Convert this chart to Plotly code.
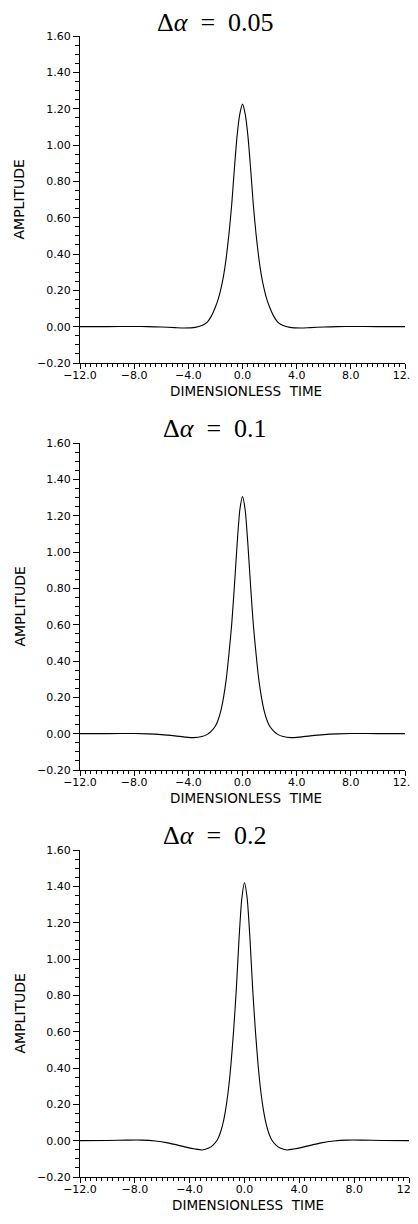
import plotly.graph_objects as go

# ---------------- data ----------------
titles = ["Δ<i>α</i>\u2002=\u20020.05", "Δ<i>α</i>\u2002=\u20020.1", "Δ<i>α</i>\u2002=\u20020.2"]

t_1 = [-12, -10, -8, -7, -6, -5, -4.3, -3.5, -3.0, -2.6, -2.3, -2.0, -1.8, -1.6, -1.4, -1.2, -1.0, -0.8, -0.6, -0.4, -0.2, 0,
       0.2, 0.4, 0.6, 0.8, 1.0, 1.2, 1.4, 1.6, 1.8, 2.0, 2.3, 2.6, 3.0, 3.5, 4.3, 5, 6, 7, 8, 10, 12]
amp_1 = [0.0, 0.0, 0.001, 0.0, -0.002, -0.005, -0.007, -0.004, 0.006, 0.025, 0.058, 0.108, 0.15, 0.207, 0.28, 0.38, 0.51, 0.67, 0.87, 1.05, 1.17, 1.225,
         1.17, 1.05, 0.87, 0.67, 0.51, 0.38, 0.28, 0.207, 0.15, 0.108, 0.058, 0.025, 0.006, -0.004, -0.007, -0.005, -0.002, 0.0, 0.001, 0.0, 0.0]

t_2 = [-12, -10, -8, -7, -6, -5, -4.2, -3.6, -3.0, -2.6, -2.3, -2.0, -1.8, -1.6, -1.4, -1.2, -1.0, -0.8, -0.6, -0.4, -0.2, 0,
       0.2, 0.4, 0.6, 0.8, 1.0, 1.2, 1.4, 1.6, 1.8, 2.0, 2.3, 2.6, 3.0, 3.6, 4.2, 5, 6, 7, 8, 10, 12]
amp_2 = [0.0, 0.0, 0.001, -0.001, -0.005, -0.012, -0.019, -0.022, -0.016, -0.004, 0.014, 0.042, 0.075, 0.125, 0.20, 0.30, 0.44, 0.60, 0.81, 1.04, 1.23, 1.305,
         1.23, 1.04, 0.81, 0.60, 0.44, 0.30, 0.20, 0.125, 0.075, 0.042, 0.014, -0.004, -0.016, -0.022, -0.019, -0.012, -0.005, -0.001, 0.001, 0.0, 0.0]

t_3 = [-12, -10, -8.5, -7.5, -6.5, -5.6, -5.0, -4.2, -3.6, -3.1, -2.6, -2.3, -2.0, -1.8, -1.6, -1.4, -1.2, -1.0, -0.8, -0.6, -0.4, -0.2, 0,
       0.2, 0.4, 0.6, 0.8, 1.0, 1.2, 1.4, 1.6, 1.8, 2.0, 2.3, 2.6, 3.1, 3.6, 4.2, 5.0, 5.6, 6.5, 7.5, 8.5, 10, 12]
amp_3 = [0.0, 0.001, 0.003, 0.003, -0.002, -0.012, -0.022, -0.037, -0.046, -0.051, -0.041, -0.025, 0.002, 0.035, 0.085, 0.16, 0.265, 0.41, 0.60, 0.83, 1.11, 1.33, 1.42,
         1.33, 1.11, 0.83, 0.60, 0.41, 0.265, 0.16, 0.085, 0.035, 0.002, -0.025, -0.041, -0.051, -0.046, -0.037, -0.022, -0.012, -0.002, 0.003, 0.003, 0.001, 0.0]

x_range = [-12, 12]
y_range = [-0.2, 1.6]
x_title = "DIMENSIONLESS  TIME"
y_title = "AMPLITUDE"

series = [(t_1, amp_1), (t_2, amp_2), (t_3, amp_3)]

# ---------------- layout (screen pixels of the reference) ----------------
OX, OY = 8, 8          # page body margin offset
W, H = 418 - OX, 1224 - 2 * OY
y_top = [36, 443, 850]
y_bot = [363, 770, 1177]
x_left = [80, 80, 80]
x_right = [405, 405, 409]
title_y = [22, 429, 836]
xtitle_y = [391, 798, 1205]
xtitle_x = [246, 246, 248]


def px(x):
    return (x - OX) / W


def py(y):
    return 1 - (y - OY) / H


fig = go.Figure()
sans = "DejaVu Sans, Verdana, sans-serif"
annotations = []

for i, (tx, ay) in enumerate(series):
    n = "" if i == 0 else str(i + 1)
    fig.add_trace(go.Scatter(
        x=tx, y=ay, mode="lines",
        line=dict(color="black", width=1.1, shape="spline", smoothing=0.6),
        xaxis="x" + n, yaxis="y" + n, showlegend=False, hoverinfo="skip"))

    fig.layout["xaxis" + n] = dict(
        domain=[px(x_left[i]), px(x_right[i])], anchor="y" + n, range=x_range, automargin=False,
        tickmode="linear", tick0=-12, dtick=4, tickformat=".1f", ticklabeloverflow="allow",
        ticks="outside", ticklen=5, tickwidth=1, tickcolor="black", ticklabelstandoff=-3,
        minor=dict(dtick=0.4, tick0=-12, ticks="outside", ticklen=3, tickwidth=1, tickcolor="black", showgrid=False),
        showline=True, linecolor="black", linewidth=1,
        showgrid=False, zeroline=False, mirror=False,
        tickfont=dict(family=sans, size=11, color="black"))
    fig.layout["yaxis" + n] = dict(
        domain=[py(y_bot[i]), py(y_top[i])], anchor="x" + n, range=y_range, automargin=False,
        tickmode="linear", tick0=-0.2, dtick=0.2, tickformat=".2f", ticklabeloverflow="allow",
        ticks="outside", ticklen=6, tickwidth=1, tickcolor="black",
        minor=dict(dtick=0.05, ticks="outside", ticklen=4, tickwidth=1, tickcolor="black", showgrid=False),
        showline=True, linecolor="black", linewidth=1,
        showgrid=False, zeroline=False, mirror=False,
        tickfont=dict(family=sans, size=11, color="black"))

    annotations.append(dict(
        text=titles[i], x=px(215), y=py(title_y[i]), xref="paper", yref="paper",
        xanchor="center", yanchor="middle", showarrow=False,
        font=dict(family="Liberation Serif, DejaVu Serif, serif", size=26, color="black")))
    annotations.append(dict(
        text=x_title, x=px(xtitle_x[i]), y=py(xtitle_y[i]), xref="paper", yref="paper",
        xanchor="center", yanchor="middle", showarrow=False,
        font=dict(family=sans, size=13.5, color="black")))
    annotations.append(dict(
        text=y_title, x=px(19), y=py((y_top[i] + y_bot[i]) / 2), xref="paper", yref="paper",
        xanchor="center", yanchor="middle", showarrow=False, textangle=-90,
        font=dict(family=sans, size=14, color="black")))

fig.update_layout(
    width=W, height=H, margin=dict(l=0, r=0, t=0, b=0, pad=0, autoexpand=False),
    paper_bgcolor="white", plot_bgcolor="white",
    annotations=annotations, showlegend=False)

fig.write_html("out.html")
